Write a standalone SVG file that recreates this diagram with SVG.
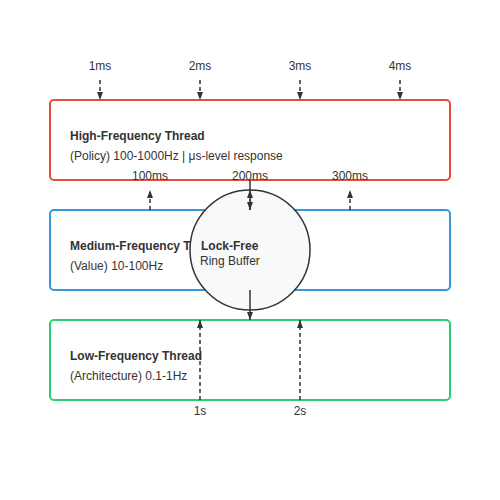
<svg xmlns="http://www.w3.org/2000/svg" width="500" height="500" viewBox="0 0 500 500">
<defs>
<marker id="ah" viewBox="0 0 8 6" refX="8" refY="3" markerWidth="8" markerHeight="6" markerUnits="userSpaceOnUse" orient="auto-start-reverse">
<path d="M0,0 L8,3 L0,6 z" fill="#333"/>
</marker>
<style>
.thread{fill:#fff;stroke-width:2}
.title{font-family:"Liberation Sans",Arial,sans-serif;font-size:12px;font-weight:bold;fill:#333}
.sub{font-family:"Liberation Sans",Arial,sans-serif;font-size:12px;fill:#333}
.lbl{font-family:"Liberation Sans",Arial,sans-serif;font-size:12px;fill:#333;text-anchor:middle}
.dash{stroke:#333;stroke-width:1.5;stroke-dasharray:4,3;fill:none;marker-end:url(#ah)}
.solid{stroke:#333;stroke-width:1.5;fill:none;marker-end:url(#ah)}
</style>
</defs>
<rect width="500" height="500" fill="#fff"/>
<g id="high-thread">
<rect class="thread" x="50" y="100" width="400" height="80" rx="4" stroke="#e74c3c"/>
<text class="title" x="70" y="140">High-Frequency Thread</text>
<text class="sub" x="70" y="160">(Policy) 100-1000Hz | μs-level response</text>
</g>
<g id="medium-thread">
<rect class="thread" x="50" y="210" width="400" height="80" rx="4" stroke="#3498db"/>
<text class="title" x="70" y="250">Medium-Frequency Thread</text>
<text class="sub" x="70" y="270">(Value) 10-100Hz</text>
</g>
<g id="low-thread">
<rect class="thread" x="50" y="320" width="400" height="80" rx="4" stroke="#2ecc71"/>
<text class="title" x="70" y="360">Low-Frequency Thread</text>
<text class="sub" x="70" y="380">(Architecture) 0.1-1Hz</text>
</g>
<g id="ring-buffer">
<circle cx="250" cy="250" r="60" fill="#f8f9fa" stroke="#333" stroke-width="1.5"/>
<text class="title" x="201" y="250">Lock-Free</text>
<text class="sub" x="200" y="265">Ring Buffer</text>
</g>
<g id="labels">
<text class="lbl" x="100" y="70">1ms</text>
<text class="lbl" x="200" y="70">2ms</text>
<text class="lbl" x="300" y="70">3ms</text>
<text class="lbl" x="400" y="70">4ms</text>
<text class="lbl" x="150" y="180">100ms</text>
<text class="lbl" x="250" y="180">200ms</text>
<text class="lbl" x="350" y="180">300ms</text>
<text class="lbl" x="200" y="415">1s</text>
<text class="lbl" x="300" y="415">2s</text>
</g>
<g id="connectors">
<line class="dash" x1="100" y1="80" x2="100" y2="100"/>
<line class="dash" x1="200" y1="80" x2="200" y2="100"/>
<line class="dash" x1="300" y1="80" x2="300" y2="100"/>
<line class="dash" x1="400" y1="80" x2="400" y2="100"/>
<line class="dash" x1="150" y1="210" x2="150" y2="190"/>
<line class="dash" x1="250" y1="210" x2="250" y2="190"/>
<line class="dash" x1="350" y1="210" x2="350" y2="190"/>
<line class="solid" x1="250" y1="180" x2="250" y2="210"/>
<line class="solid" x1="250" y1="290" x2="250" y2="320"/>
<line class="dash" x1="200" y1="400" x2="200" y2="320"/>
<line class="dash" x1="300" y1="400" x2="300" y2="320"/>
</g>
</svg>
